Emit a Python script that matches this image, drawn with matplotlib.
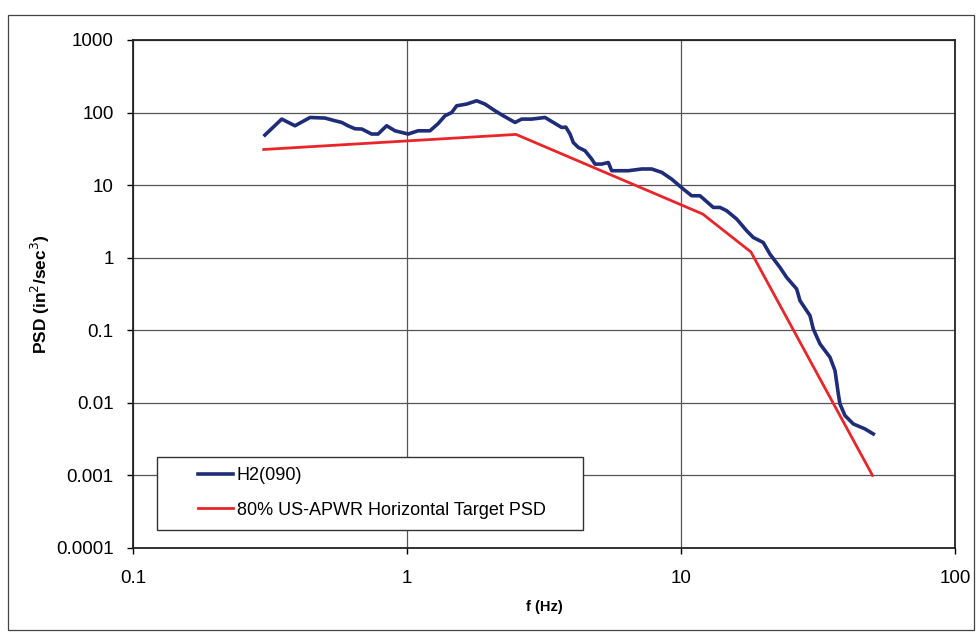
import matplotlib
matplotlib.use("Agg")
import matplotlib.pyplot as plt
from matplotlib.patches import Rectangle

plt.rcParams["font.family"] = ["Liberation Sans", "DejaVu Sans"]

# H2(090) response PSD, sampled along the record
freq_h2 = [0.303, 0.349, 0.390, 0.443, 0.502, 0.546, 0.578, 0.609, 0.646, 0.684,
           0.743, 0.784, 0.843, 0.904, 1.01, 1.097, 1.213, 1.297, 1.376, 1.456,
           1.518, 1.651, 1.796, 1.926, 2.095, 2.246, 2.479, 2.622, 2.852, 3.189,
           3.420, 3.669, 3.80, 3.935, 4.045, 4.218, 4.464, 4.721, 4.854, 5.135,
           5.429, 5.585, 5.825, 6.424, 7.190, 7.816, 8.505, 9.248, 10.19, 10.94,
           11.73, 13.12, 13.88, 14.68, 15.97, 17.37, 18.36, 19.96, 21.12, 22.97,
           24.30, 26.43, 27.18, 29.57, 30.40, 32.16, 34.98, 36.48, 37.51, 38.03,
           39.69, 42.55, 46.95, 50.33]
psd_h2 = [49.0, 81.3, 65.8, 85.6, 84.0, 77.1, 73.1, 65.8, 59.8, 59.3,
          50.6, 50.6, 65.8, 56.1, 50.6, 56.1, 56.1, 70.1, 90.3, 100.3,
          124.0, 131.0, 145.5, 131.0, 105.9, 90.3, 73.1, 81.3, 81.3, 85.6,
          73.1, 62.3, 63.0, 50.6, 38.7, 33.1, 29.8, 22.9, 19.5, 19.5,
          20.5, 15.8, 15.8, 15.8, 16.7, 16.7, 15.0, 12.1, 8.84, 7.14,
          7.14, 4.93, 4.93, 4.44, 3.41, 2.35, 1.90, 1.62, 1.12, 0.735,
          0.535, 0.371, 0.256, 0.159, 0.104, 0.0648, 0.0424, 0.0278, 0.0133, 0.00966,
          0.00667, 0.00512, 0.00437, 0.00373]

# 80% target PSD breakpoints
freq_target = [0.3, 2.5, 12.0, 18.0, 50.0]
psd_target = [31.0, 50.0, 4.0, 1.2, 0.001]

x_ticks = [0.1, 1, 10, 100]
x_tick_labels = ["0.1", "1", "10", "100"]
y_ticks = [0.0001, 0.001, 0.01, 0.1, 1, 10, 100, 1000]
y_tick_labels = ["0.0001", "0.001", "0.01", "0.1", "1", "10", "100", "1000"]

W, H = 976, 634
fig = plt.figure(figsize=(W / 100, H / 100), dpi=100)
ax = fig.add_axes([133 / W, 1 - 548 / H, (955 - 133) / W, (548 - 40) / H])


def px_box(x0, y0, x1, y1):
    # pixel box (top-left origin) -> figure-fraction (x, y, w, h)
    return x0 / W, 1 - y1 / H, (x1 - x0) / W, (y1 - y0) / H


# thin outer frame around the whole chart
x, y, w, h = px_box(8, 15, 974, 630)
fig.patches.append(Rectangle((x, y), w, h, transform=fig.transFigure, fill=False,
                             edgecolor="#444444", linewidth=0.9))

ax.plot(freq_h2, psd_h2, color="#1f2d78", linewidth=2.6, label="H2(090)",
        solid_joinstyle="round", zorder=3)
ax.plot(freq_target, psd_target, color="#e8262a", linewidth=2.0,
        label="80% US-APWR Horizontal Target PSD", zorder=2)

ax.set_xscale("log")
ax.set_yscale("log")
ax.set_xlim(0.1, 100)
ax.set_ylim(0.0001, 1000)
ax.set_xticks(x_ticks)
ax.set_xticklabels(x_tick_labels)
ax.set_yticks(y_ticks)
ax.set_yticklabels(y_tick_labels)
ax.minorticks_off()
ax.tick_params(axis="both", labelsize=13.5, length=4, width=1, direction="out")
ax.tick_params(axis="x", pad=12)
ax.tick_params(axis="y", pad=10)

ax.grid(True, which="major", color="#555555", linewidth=0.9)
for s in ax.spines.values():
    s.set_linewidth(1.3)
    s.set_color("#222222")

ax.set_xlabel("f (Hz)", fontsize=10.5, fontweight="bold", labelpad=9)
ax.set_ylabel("PSD (in$^2$/sec$^3$)", fontsize=12.5, fontweight="bold", labelpad=3)

# legend box drawn separately so the entries can sit inset from its left edge
x, y, w, h = px_box(157, 457, 583, 530)
ax.add_patch(Rectangle((x, y), w, h, transform=fig.transFigure,
                       facecolor="white", edgecolor="#333333",
                       linewidth=1.0, zorder=4))
leg = ax.legend(loc="upper left", bbox_to_anchor=(198 / W, 1 - 467 / H),
                bbox_transform=fig.transFigure, fontsize=13, frameon=False,
                handlelength=1.95, handletextpad=0.2, borderpad=0,
                labelspacing=0.97, borderaxespad=0)
leg.set_zorder(5)

fig.savefig("out.png", dpi=100)
